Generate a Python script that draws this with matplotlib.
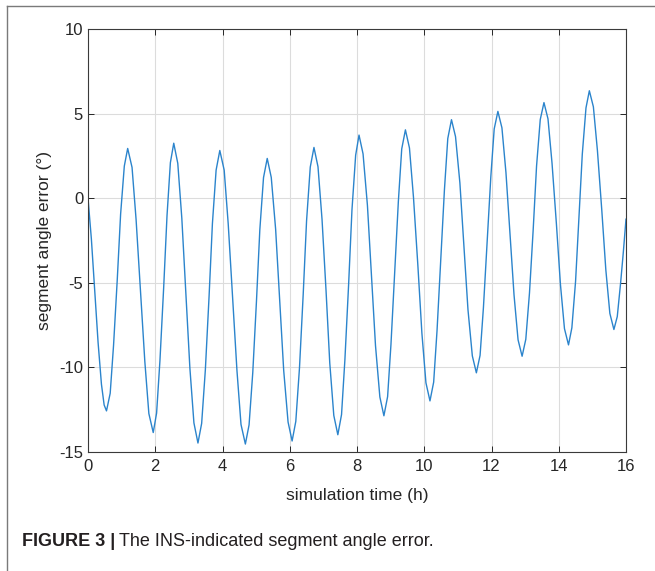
import matplotlib
matplotlib.use("Agg")
import matplotlib.pyplot as plt
from matplotlib.lines import Line2D

# simulation time (h) and segment angle error (deg)
time_h = [
    0.00, 0.10, 0.20, 0.30, 0.40, 0.48,
    0.55, 0.66, 0.76, 0.87, 0.97, 1.08,
    1.18, 1.31, 1.43, 1.56, 1.69, 1.81,
    1.94, 2.04, 2.14, 2.25, 2.35, 2.45,
    2.55, 2.67, 2.79, 2.91, 3.03, 3.15,
    3.27, 3.38, 3.49, 3.60, 3.70, 3.81,
    3.92, 4.05, 4.17, 4.30, 4.43, 4.55,
    4.68, 4.79, 4.90, 5.01, 5.11, 5.22,
    5.33, 5.45, 5.58, 5.70, 5.82, 5.95,
    6.07, 6.18, 6.29, 6.40, 6.50, 6.61,
    6.72, 6.84, 6.96, 7.08, 7.19, 7.31,
    7.43, 7.54, 7.64, 7.75, 7.85, 7.96,
    8.06, 8.18, 8.31, 8.43, 8.55, 8.68,
    8.80, 8.91, 9.01, 9.12, 9.23, 9.33,
    9.44, 9.56, 9.68, 9.81, 9.93, 10.05,
    10.17, 10.28, 10.38, 10.49, 10.60, 10.70,
    10.81, 10.93, 11.06, 11.18, 11.30, 11.43,
    11.55, 11.66, 11.76, 11.87, 11.98, 12.08,
    12.19, 12.31, 12.43, 12.55, 12.67, 12.79,
    12.91, 13.02, 13.13, 13.24, 13.34, 13.45,
    13.56, 13.68, 13.80, 13.93, 14.05, 14.17,
    14.29, 14.39, 14.50, 14.60, 14.70, 14.81,
    14.91, 15.03, 15.15, 15.28, 15.40, 15.52,
    15.64, 15.74, 15.84, 15.92, 16.00,
]
angle_err = [
    0.00, -2.40, -5.44, -8.53, -11.00, -12.22,
    -12.57, -11.53, -8.69, -4.82, -0.94, 1.90,
    2.94, 1.82, -1.26, -5.46, -9.65, -12.73,
    -13.85, -12.70, -9.58, -5.30, -1.03, 2.10,
    3.25, 2.06, -1.18, -5.61, -10.04, -13.28,
    -14.47, -13.31, -10.15, -5.83, -1.50, 1.66,
    2.82, 1.66, -1.52, -5.86, -10.19, -13.37,
    -14.53, -13.40, -10.31, -6.09, -1.87, 1.22,
    2.35, 1.23, -1.83, -6.00, -10.18, -13.23,
    -14.35, -13.19, -10.01, -5.68, -1.34, 1.84,
    3.00, 1.86, -1.25, -5.49, -9.74, -12.84,
    -13.98, -12.79, -9.55, -5.13, -0.70, 2.54,
    3.73, 2.62, -0.42, -4.57, -8.71, -11.75,
    -12.86, -11.73, -8.64, -4.41, -0.19, 2.91,
    4.04, 2.97, 0.04, -3.97, -7.98, -10.91,
    -11.98, -10.87, -7.83, -3.67, 0.49, 3.53,
    4.64, 3.64, 0.90, -2.84, -6.58, -9.32,
    -10.32, -9.29, -6.46, -2.60, 1.27, 4.09,
    5.13, 4.16, 1.51, -2.11, -5.72, -8.37,
    -9.34, -8.34, -5.59, -1.85, 1.90, 4.65,
    5.65, 4.69, 2.07, -1.51, -5.09, -7.71,
    -8.67, -7.66, -4.92, -1.16, 2.60, 5.34,
    6.35, 5.40, 2.82, -0.71, -4.23, -6.81,
    -7.76, -7.00, -5.00, -3.20, -1.24,
]
x_ticks = [0, 2, 4, 6, 8, 10, 12, 14, 16]
y_ticks = [-15, -10, -5, 0, 5, 10]

plt.rcParams["font.family"] = ["Liberation Sans", "DejaVu Sans"]
plt.rcParams["axes.unicode_minus"] = False

fig = plt.figure(figsize=(6.55, 5.71), dpi=100)
ax = fig.add_axes([88 / 655, 1 - 452 / 571, (626 - 88) / 655, (452 - 29) / 571])

ax.plot(time_h, angle_err, color="#2b84cc", lw=1.0)

ax.set_xlim(0, 16)
ax.set_ylim(-15, 10)
ax.set_xticks(x_ticks)
ax.set_yticks(y_ticks)
ax.grid(True, color="#dcdcdc", lw=0.8)
ax.set_axisbelow(True)
ax.tick_params(direction="in", top=True, right=True, length=4, width=0.7,
               colors="#262626", labelsize=12, labelcolor="#262626")
ax.tick_params(axis="x", pad=5)
for s in ax.spines.values():
    s.set_color("#3a3a3a")
    s.set_linewidth(0.8)

ax.set_xlabel("simulation time (h)", fontsize=12.5, color="#262626", labelpad=10)
ax.set_ylabel("segment angle error (°)", fontsize=12.5, color="#262626", labelpad=5)

# partial frame round the figure (top and left)
fig.add_artist(Line2D([7 / 655, 7 / 655], [0, 1 - 6 / 571], transform=fig.transFigure,
                      color="#7a7a7a", lw=1.0))
fig.add_artist(Line2D([7 / 655, 1], [1 - 6 / 571, 1 - 6 / 571], transform=fig.transFigure,
                      color="#7a7a7a", lw=1.0))

cap_font = ["Liberation Sans Narrow", "Liberation Sans", "DejaVu Sans"]
t1 = fig.text(22 / 655, 1 - 542 / 571, "FIGURE 3 |", fontsize=13, fontweight="bold",
              family=cap_font, color="#231f20", va="center")
fig.canvas.draw()
bb = t1.get_window_extent()
fig.text(bb.x1 / fig.bbox.width + 4 / 655, 1 - 542 / 571,
         "The INS-indicated segment angle error.", fontsize=13,
         family=cap_font, color="#231f20", va="center")

fig.savefig("out.png", dpi=100)
